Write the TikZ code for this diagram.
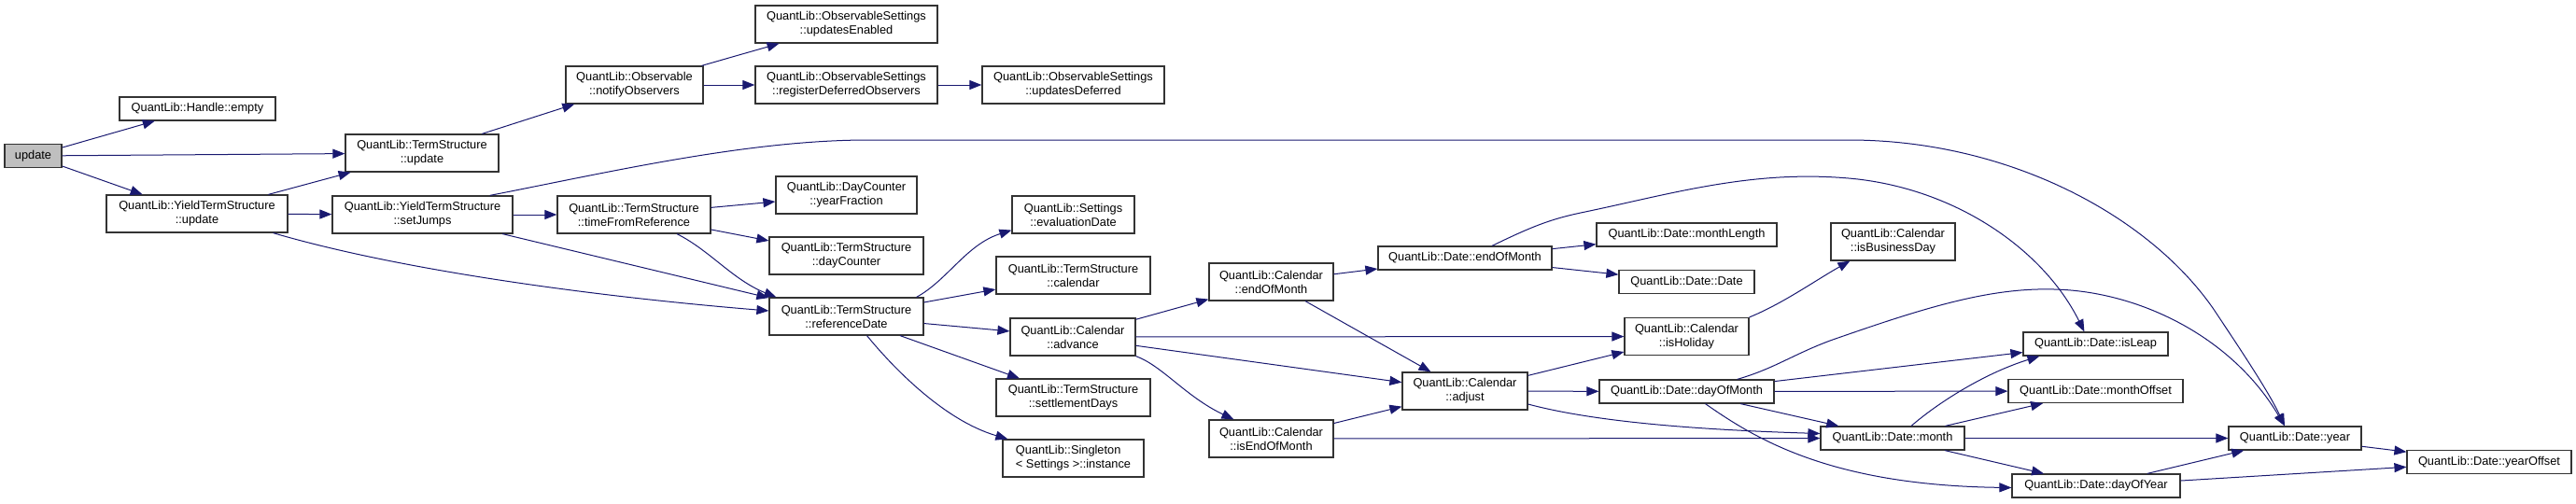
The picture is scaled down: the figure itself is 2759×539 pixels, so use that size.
\documentclass[tikz,border=0pt]{standalone}
\usepackage{fontspec}
\setmainfont{Liberation Sans}
\usetikzlibrary{arrows.meta,calc}
\definecolor{edgeblue}{HTML}{191970}

\begin{document}
\begin{tikzpicture}[
        x=0.75pt,
        y=-0.75pt,
        every node/.style={font=\fontsize{9.6pt}{11.25pt}\selectfont},
        fnbox/.style={
            draw=black!80,
            line width=0.9pt,
            fill=white,
            align=center,
            inner xsep=7pt,
            inner ysep=0pt,
            minimum height=18.75pt
        },
        fnboxtwo/.style={fnbox, minimum height=30pt},
        rootbox/.style={fnbox, fill=black!25},
        boxw/.style={minimum width=#1*0.75pt},
        call/.style={
            draw=edgeblue,
            line width=0.75pt,
            -{Triangle[length=9.75pt,width=7.5pt]}
        }
    ]
        \useasboundingbox (0,0) rectangle (2759,539);

        % Column 1 and 2: the caller and its direct callees
        \node[rootbox, boxw=61] (update) at (35.5,167) {update};
        \node[fnbox, boxw=167] (empty) at (211.5,116.5) {QuantLib::Handle::empty};
        \node[fnboxtwo, boxw=194] (ytsupdate) at (211,229) {QuantLib::YieldTermStructure\\::update};
        \node[fnboxtwo, boxw=164] (tsupdate) at (452,164) {QuantLib::TermStructure\\::update};
        \node[fnboxtwo, boxw=193] (setjumps) at (452.5,230) {QuantLib::YieldTermStructure\\::setJumps};

        % Observer part
        \node[fnboxtwo, boxw=147] (notify) at (679.5,91) {QuantLib::Observable\\::notifyObservers};
        \node[fnboxtwo, boxw=195] (updenabled) at (906.5,26) {QuantLib::ObservableSettings\\::updatesEnabled};
        \node[fnboxtwo, boxw=195] (regdeferred) at (906.5,91) {QuantLib::ObservableSettings\\::registerDeferredObservers};
        \node[fnboxtwo, boxw=195] (upddeferred) at (1149.5,91) {QuantLib::ObservableSettings\\::updatesDeferred};

        % Term structure part
        \node[fnboxtwo, boxw=164] (timefromref) at (679,230) {QuantLib::TermStructure\\::timeFromReference};
        \node[fnboxtwo, boxw=151] (yearfraction) at (906.5,209) {QuantLib::DayCounter\\::yearFraction};
        \node[fnboxtwo, boxw=165] (daycounter) at (906.5,274) {QuantLib::TermStructure\\::dayCounter};
        \node[fnboxtwo, boxw=165] (refdate) at (906.5,339) {QuantLib::TermStructure\\::referenceDate};
        \node[fnboxtwo, boxw=131] (evaldate) at (1149.5,230) {QuantLib::Settings\\::evaluationDate};
        \node[fnboxtwo, boxw=165] (calendar) at (1149.5,295) {QuantLib::TermStructure\\::calendar};
        \node[fnboxtwo, boxw=134] (advance) at (1149,361) {QuantLib::Calendar\\::advance};
        \node[fnboxtwo, boxw=165] (settlement) at (1149.5,426) {QuantLib::TermStructure\\::settlementDays};
        \node[fnboxtwo, boxw=151, align=left] (singleton) at (1149.5,491) {QuantLib::Singleton\\< Settings >::instance};

        % Calendar and date part
        \node[fnboxtwo, boxw=133] (caleom) at (1361.5,302) {QuantLib::Calendar\\::endOfMonth};
        \node[fnboxtwo, boxw=133] (iseom) at (1361.5,470) {QuantLib::Calendar\\::isEndOfMonth};
        \node[fnbox, boxw=186] (dateeom) at (1569,276.5) {QuantLib::Date::endOfMonth};
        \node[fnboxtwo, boxw=134] (adjust) at (1569,419) {QuantLib::Calendar\\::adjust};
        \node[fnbox, boxw=193] (monthlength) at (1806.5,251.5) {QuantLib::Date::monthLength};
        \node[fnbox, boxw=145] (datedate) at (1806.5,302) {QuantLib::Date::Date};
        \node[fnboxtwo, boxw=133] (isholiday) at (1806.5,360.5) {QuantLib::Calendar\\::isHoliday};
        \node[fnbox, boxw=187] (dayofmonth) at (1806.5,419.5) {QuantLib::Date::dayOfMonth};
        \node[fnboxtwo, boxw=133] (isbusinessday) at (2027.5,259) {QuantLib::Calendar\\::isBusinessDay};
        \node[fnbox, boxw=154] (month) at (2027,469.5) {QuantLib::Date::month};
        \node[fnbox, boxw=155] (isleap) at (2244.5,368.5) {QuantLib::Date::isLeap};
        \node[fnbox, boxw=187] (monthoffset) at (2244.5,419) {QuantLib::Date::monthOffset};
        \node[fnbox, boxw=180] (dayofyear) at (2245,520.5) {QuantLib::Date::dayOfYear};
        \node[fnbox, boxw=142] (year) at (2458,469.5) {QuantLib::Date::year};
        \node[fnbox, boxw=176] (yearoffset) at (2666,495) {QuantLib::Date::yearOffset};

        % Straight calls
        \foreach \a/\b in {update/empty, update/tsupdate, update/ytsupdate,
                ytsupdate/tsupdate, ytsupdate/setjumps, tsupdate/notify,
                notify/updenabled, notify/regdeferred, regdeferred/upddeferred,
                setjumps/timefromref, setjumps/refdate,
                timefromref/yearfraction, timefromref/daycounter,
                refdate/calendar, refdate/advance, refdate/settlement,
                advance/caleom, advance/isholiday, advance/adjust,
                caleom/dateeom, caleom/adjust,
                dateeom/monthlength, dateeom/datedate,
                adjust/isholiday, adjust/dayofmonth,
                iseom/adjust, iseom/month,
                dayofmonth/isleap, dayofmonth/monthoffset, dayofmonth/month,
                month/monthoffset, month/year, month/dayofyear,
                dayofyear/year, dayofyear/yearoffset, year/yearoffset}
            \draw[call] (\a) -- (\b);

        % Curved calls
        \draw[call] ($(ytsupdate.south east)+(-16,0)$)
            .. controls (430,290) and (640,318) .. ($(refdate.west)+(0,-6)$);
        \draw[call] ($(setjumps.north east)+(-25,0)$)
            .. controls (650,185) and (800,150) .. (930,150) -- (1980,150)
            .. controls (2150,150) and (2300,230) .. (2370,330)
            .. controls (2400,375) and (2430,420) .. ($(year.north)+(-11,0)$);
        \draw[call] ($(timefromref.south)+(46,0)$)
            .. controls (760,268) and (785,300) .. ($(refdate.north west)+(8,0)$);
        \draw[call] ($(refdate.north east)+(-8,0)$)
            .. controls (1015,300) and (1035,262) .. ($(evaldate.south west)+(0,-4)$);
        \draw[call] ($(refdate.south)+(22,0)$)
            .. controls (955,392) and (1010,450) .. ($(singleton.north west)+(6,0)$);
        \draw[call] (advance.south east)
            .. controls (1245,392) and (1270,425) .. ($(iseom.north west)+(27,0)$);
        \draw[call] ($(dateeom.north)+(29,0)$)
            .. controls (1640,243) and (1660,235) .. (1693,228)
            .. controls (1790,208) and (1880,180) .. (1990,192)
            .. controls (2100,205) and (2190,270) .. ($(isleap.north west)+(66,0)$);
        \draw[call] (isholiday.north east)
            .. controls (1910,325) and (1945,300) .. ($(isbusinessday.south west)+(21,0)$);
        \draw[call] ($(adjust.east)+(0,14)$)
            .. controls (1700,450) and (1800,460) .. ($(month.west)+(0,-5)$);
        \draw[call] ($(dayofmonth.north east)+(-40,0)$)
            .. controls (1900,395) and (1920,380) .. (1960,365)
            .. controls (2060,330) and (2130,308) .. (2200,310)
            .. controls (2290,312) and (2390,360) .. ($(year.north)+(-11,0)$);
        \draw[call] ($(dayofmonth.south)+(20,0)$)
            .. controls (1880,470) and (1960,520) .. ($(dayofyear.west)+(0,2)$);
        \draw[call] ($(month.north)+(20,0)$)
            .. controls (2075,432) and (2125,400) .. ($(isleap.south west)+(18,0)$);

    \end{tikzpicture}
\end{document}
